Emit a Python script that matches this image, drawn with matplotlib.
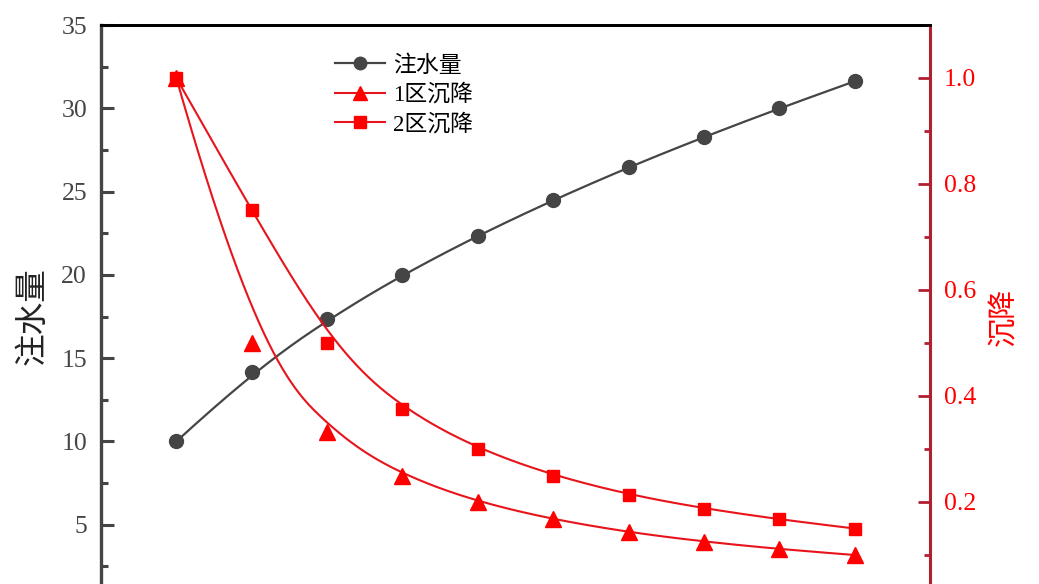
import matplotlib
matplotlib.use("Agg")
import matplotlib.pyplot as plt
from matplotlib.ticker import MultipleLocator, FormatStrFormatter
import numpy as np

plt.rcParams["font.family"] = ["Liberation Serif", "Noto Sans CJK SC", "DejaVu Sans"]

steps = [1, 2, 3, 4, 5, 6, 7, 8, 9, 10]
injection = [10.0, 14.14, 17.32, 20.0, 22.36, 24.49, 26.46, 28.28, 30.0, 31.62]
settle_1 = [1.0, 0.5, 0.333, 0.25, 0.2, 0.167, 0.143, 0.125, 0.111, 0.1]
settle_2 = [1.0, 0.75, 0.5, 0.375, 0.3, 0.25, 0.214, 0.1875, 0.167, 0.15]
left_ticks = [5, 10, 15, 20, 25, 30, 35]
right_ticks = [0.2, 0.4, 0.6, 0.8, 1.0]


def _bspline(xs, ys, degree=3, samples=400):
    # clamped uniform B-spline, data points used as control points (like Origin's B-spline line)
    pts = np.column_stack([xs, ys]).astype(float)
    n = len(pts)
    inner = np.arange(1, n - degree)
    knots = np.concatenate([np.zeros(degree + 1), inner, np.full(degree + 1, n - degree)])
    t = np.linspace(0, n - degree, samples)
    t[-1] -= 1e-9
    basis = np.zeros((samples, len(knots) - 1))
    for i in range(len(knots) - 1):
        basis[:, i] = (t >= knots[i]) & (t < knots[i + 1])
    for k in range(1, degree + 1):
        new = np.zeros((samples, len(knots) - 1 - k))
        for i in range(len(knots) - 1 - k):
            d1 = knots[i + k] - knots[i]
            d2 = knots[i + k + 1] - knots[i + 1]
            a = (t - knots[i]) / d1 * basis[:, i] if d1 > 0 else 0
            b = (knots[i + k + 1] - t) / d2 * basis[:, i + 1] if d2 > 0 else 0
            new[:, i] = a + b
        basis = new
    curve = basis @ pts
    return curve[:, 0], curve[:, 1]


gray = "#454545"
red = "#FF0000"
line_red = "#E8141B"
dark_red = "#B22030"

fig = plt.figure(figsize=(10.39, 5.84), dpi=100)
ax = fig.add_axes([101 / 1039, 1 - 608 / 584, 829 / 1039, 583 / 584])
ax2 = ax.twinx()

cx, cy = _bspline(steps, injection)
ax.plot(cx, cy, color=gray, lw=1.6, zorder=2)
ax.plot(steps, injection, "o", color=gray, ms=10, zorder=3)

c1x, c1y = _bspline(steps, settle_1)
c2x, c2y = _bspline(steps, settle_2)
ax2.plot(c1x, c1y, color=line_red, lw=1.5)
ax2.plot(c2x, c2y, color=line_red, lw=1.5)
ax2.plot(steps, settle_1, "^", color=red, ms=11)
ax2.plot(steps, settle_2, "s", color=red, ms=9)

ax.set_xlim(0, 11)
ax.set_ylim(0, 35)
ax2.set_ylim(0, 1.1)
ax.set_xticks([])

ax.set_yticks(left_ticks)
ax.yaxis.set_minor_locator(MultipleLocator(2.5))
ax2.set_yticks(right_ticks)
ax2.yaxis.set_minor_locator(MultipleLocator(0.1))
ax2.yaxis.set_major_formatter(FormatStrFormatter("%.1f"))

ax.tick_params(axis="y", which="major", direction="in", length=9.5, width=2.2, color=gray,
               labelcolor=gray, labelsize=18.5, pad=10)
ax.tick_params(axis="y", which="minor", direction="in", length=5, width=2.2, color=gray)
ax2.tick_params(axis="y", which="major", direction="in", length=9, width=2, color=dark_red,
                labelcolor=red, labelsize=18.5, pad=10)
ax2.tick_params(axis="y", which="minor", direction="in", length=4.5, width=2, color=dark_red)
ax.tick_params(axis="x", bottom=False, labelbottom=False)
ax2.tick_params(axis="x", bottom=False, labelbottom=False)

for a in (ax, ax2):
    a.spines["bottom"].set_visible(False)
    a.spines["top"].set_linewidth(2)
    a.spines["top"].set_color("black")
ax.spines["left"].set_linewidth(2.4)
ax.spines["left"].set_color(gray)
ax2.spines["right"].set_linewidth(2.2)
ax2.spines["right"].set_color(dark_red)
ax2.spines["left"].set_visible(False)
ax.spines["right"].set_visible(False)

fig.text(33 / 1039, 1 - 316 / 584, "注水量", rotation=90, ha="center", va="center",
         fontsize=23.5, color="#222222", family=["Noto Sans CJK SC"])
fig.text(1004 / 1039, 1 - 317 / 584, "沉降", rotation=90, ha="center", va="center",
         fontsize=21, color=red, family=["Noto Sans CJK SC"])

h0 = plt.Line2D([], [], color=gray, lw=1.6, marker="o", ms=9)
h1 = plt.Line2D([], [], color=line_red, lw=1.5, marker="^", ms=10, mfc=red, mec=red)
h2 = plt.Line2D([], [], color=line_red, lw=1.5, marker="s", ms=8.5, mfc=red, mec=red)
fig.legend([h0, h1, h2], ["注水量", "1区沉降", "2区沉降"], loc="upper left",
           bbox_to_anchor=(335 / 1039, 1 - 55 / 584), frameon=False, fontsize=16.5,
           handlelength=2.2, handletextpad=0.35, labelspacing=0.33, borderpad=0,
           borderaxespad=0)

fig.savefig("out.png", dpi=100)
